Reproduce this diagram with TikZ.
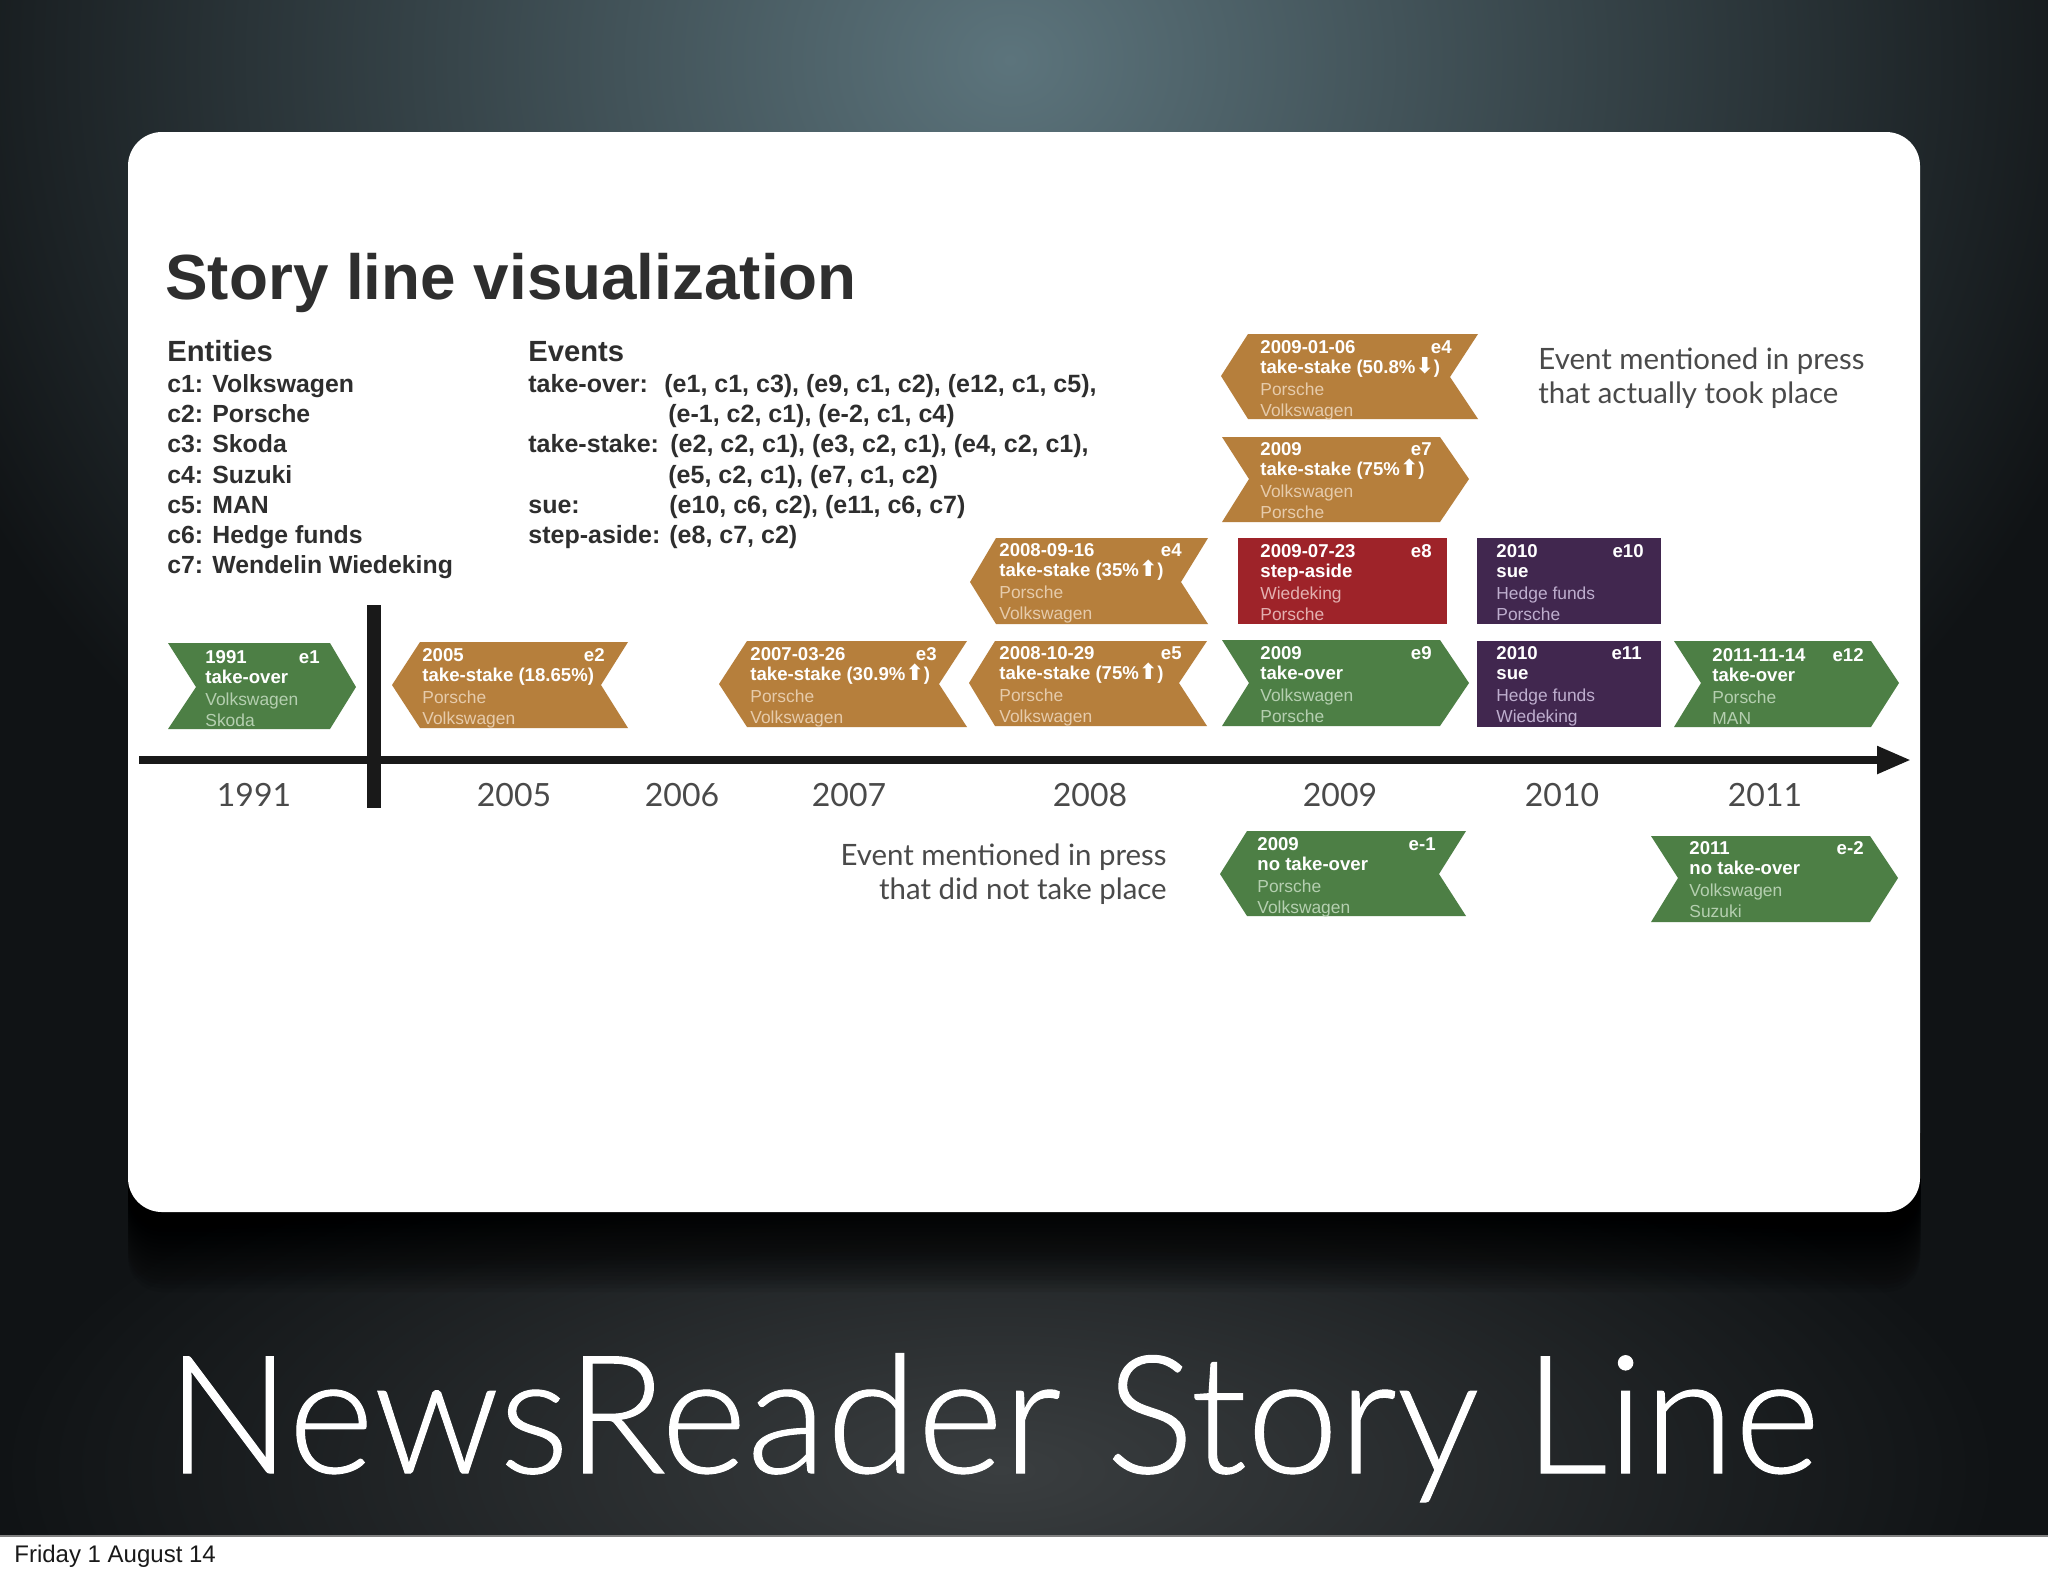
\documentclass[tikz,border=0pt]{standalone}
\usepackage{fontspec}
\setmainfont{Liberation Sans}
\newfontfamily\gillish{Lato}
\newfontfamily\gilllight[FakeBold=0.6]{Lato Light}
\newfontfamily\symfont{DejaVu Sans}
\usetikzlibrary{arrows.meta}
\definecolor{slidebase}{HTML}{101315}
\definecolor{topglow}{HTML}{5C747C}
\definecolor{lowglow}{HTML}{3A3E40}
\definecolor{evgreen}{HTML}{4D7F45}
\definecolor{evorange}{HTML}{B67F3C}
\definecolor{evred}{HTML}{9E2329}
\definecolor{evpurple}{HTML}{41274F}
\definecolor{tintgreen}{HTML}{B5CFB0}
\definecolor{tintorange}{HTML}{E6CBAB}
\definecolor{tintred}{HTML}{E3B0B0}
\definecolor{tintpurple}{HTML}{BEAECE}
\definecolor{inkdark}{HTML}{2E2E2E}
\definecolor{inkgrey}{HTML}{4A4A4A}
\newcommand{\up}{{\symfont\fontsize{11}{11}\selectfont\char"2B06}}
\newcommand{\down}{{\symfont\fontsize{11}{11}\selectfont\char"2B07}}
% text block of an event: x, right x, first centre y, date, id, action, first, second, tint
\newcommand{\evtext}[9]{%
  \node[evbold,anchor=base west] (#5date) at (#1,#3+6) {#4};
  \node[evbold,anchor=base east] (#5id) at (#2,#3+6) {#5};
  \node[evbold,anchor=base west] (#5act) at (#1,#3+26.5) {#6};
  \node[evreg,text=#9,anchor=base west] (#5one) at (#1,#3+48.5) {#7};
  \node[evreg,text=#9,anchor=base west] (#5two) at (#1,#3+69.5) {#8};
}
\tikzset{
  evbold/.style={inner sep=0pt,text=white,font=\fontsize{9.3}{10}\selectfont\bfseries},
  evreg/.style={inner sep=0pt,font=\fontsize{8.7}{10}\selectfont},
  bodytext/.style={inner sep=0pt,anchor=base west,text=inkdark,font=\fontsize{12.5}{14}\selectfont\bfseries},
  listtext/.style={inner sep=0pt,anchor=base west,text=inkdark,font=\fontsize{12.4}{14}\selectfont\bfseries},
  headtext/.style={inner sep=0pt,anchor=base west,text=inkdark,font=\fontsize{14.6}{16}\selectfont\bfseries},
  yeartext/.style={inner sep=0pt,text=inkgrey,font=\fontsize{16}{18}\selectfont\gillish},
  notetext/.style={inner sep=0pt,text=inkgrey,font=\fontsize{14.7}{18}\selectfont\gillish},
}
\begin{document}
\begin{tikzpicture}[x=0.5pt,y=-0.5pt]
\useasboundingbox (0,0) rectangle (2048,1576);
% slide background
\fill[white] (0,0) rectangle (2048,1576);
\begin{scope}
\clip (0,0) rectangle (2048,1535);
\fill[slidebase] (0,0) rectangle (2048,1535);
\shade[inner color=topglow,outer color=slidebase] (1010,60) ellipse (1150 and 1000);
\shade[inner color=lowglow,outer color=slidebase] (1000,1470) ellipse (1000 and 400);
\end{scope}
\draw[gray,line width=1pt] (0,1535.5) -- (2048,1535.5);
% card with soft shadow
\foreach \g in {4,8,...,80}
  \fill[black,opacity=0.07,rounded corners=17pt] (128,1100) rectangle (1920,1212+\g);
\fill[white,rounded corners=17pt] (128,132) rectangle (1920,1212);
% title and lists
\node[inner sep=0pt,anchor=base west,text=inkdark,font=\fontsize{31.9}{34}\selectfont\bfseries] (title) at (165,299) {Story line visualization};
\node[headtext] (enth) at (167,361) {Entities};
\node[listtext] (c1) at (167,392) {c1: Volkswagen};
\node[listtext] (c2) at (167,422) {c2: Porsche};
\node[listtext] (c3) at (167,452) {c3: Skoda};
\node[listtext] (c4) at (167,483) {c4: Suzuki};
\node[listtext] (c5) at (167,513) {c5: MAN};
\node[listtext] (c6) at (167,543) {c6: Hedge funds};
\node[listtext] (c7) at (167,573) {c7: Wendelin Wiedeking};
\node[headtext] (evh) at (528,361) {Events};
\node[bodytext] (l1) at (528,392) {take-over:};
\node[bodytext] (l1b) at (664,392) {(e1, c1, c3), (e9, c1, c2), (e12, c1, c5),};
\node[bodytext] (l2b) at (668,422) {(e-1, c2, c1), (e-2, c1, c4)};
\node[bodytext] (l3) at (528,452) {take-stake:};
\node[bodytext] (l3b) at (670,452) {(e2, c2, c1), (e3, c2, c1), (e4, c2, c1),};
\node[bodytext] (l4b) at (668,483) {(e5, c2, c1), (e7, c1, c2)};
\node[bodytext] (l5) at (528,513) {sue:};
\node[bodytext] (l5b) at (669,513) {(e10, c6, c2), (e11, c6, c7)};
\node[bodytext] (l6) at (528,543) {step-aside:};
\node[bodytext] (l6b) at (669,543) {(e8, c7, c2)};
% notes
\node[notetext,anchor=west] (n1) at (1538,361) {Event mentioned in press};
\node[notetext,anchor=west] (n2) at (1538,395) {that actually took place};
\node[notetext,anchor=east] (n3) at (1167,857) {Event mentioned in press};
\node[notetext,anchor=east] (n4) at (1167,891) {that did not take place};
% axis
\coordinate (axstart) at (139,760);
\coordinate (axend) at (1911,760);
\coordinate (bartop) at (374,605);
\coordinate (barbot) at (374,808);
\draw[line width=4pt,black!90,-{Triangle[length=17pt,width=13pt]}] (axstart) -- (axend);
\draw[line width=7pt,black!90] (bartop) -- (barbot);
\node[yeartext] (y1991) at (254,795) {1991};
\node[yeartext] (y2005) at (514,795) {2005};
\node[yeartext] (y2006) at (682,795) {2006};
\node[yeartext] (y2007) at (849,795) {2007};
\node[yeartext] (y2008) at (1090,795) {2008};
\node[yeartext] (y2009) at (1340,795) {2009};
\node[yeartext] (y2010) at (1562,795) {2010};
\node[yeartext] (y2011) at (1765,795) {2011};
% event shapes
\fill[evgreen] (168,643) -- (330,643) -- (356,687) -- (330,729) -- (168,729) -- (196,687) -- cycle;
\fill[evorange] (420,642) -- (628,642) -- (601,685) -- (628,728) -- (420,728) -- (392,685) -- cycle;
\fill[evorange] (747,641) -- (967,641) -- (939,684) -- (967,727) -- (747,727) -- (719,684) -- cycle;
\fill[evorange] (996,538) -- (1208,538) -- (1181,582) -- (1208,624) -- (996,624) -- (970,582) -- cycle;
\fill[evorange] (995,641) -- (1207,641) -- (1179,683) -- (1207,726) -- (995,726) -- (969,683) -- cycle;
\fill[evorange] (1248,334) -- (1478,334) -- (1450,377) -- (1478,419) -- (1248,419) -- (1221,376) -- cycle;
\fill[evorange] (1222,437) -- (1440,437) -- (1469,479) -- (1440,522) -- (1222,522) -- (1249,479) -- cycle;
\fill[evred] (1238,538) rectangle (1447,624);
\fill[evpurple] (1477,538) rectangle (1661,624);
\fill[evgreen] (1222,640) -- (1440,640) -- (1469,683) -- (1440,726) -- (1222,726) -- (1249,683) -- cycle;
\fill[evpurple] (1477,641) rectangle (1661,727);
\fill[evgreen] (1674,641) -- (1871,641) -- (1899,683) -- (1871,727) -- (1674,727) -- (1701,683) -- cycle;
\fill[evgreen] (1247,831) -- (1466,831) -- (1439,874) -- (1466,916) -- (1247,916) -- (1220,874) -- cycle;
\fill[evgreen] (1651,836) -- (1870,836) -- (1898,878) -- (1870,922) -- (1651,922) -- (1678,878) -- cycle;
% event texts
\evtext{205}{320}{657}{1991}{e1}{take-over}{Volkswagen}{Skoda}{tintgreen}
\evtext{422}{605}{655}{2005}{e2}{take-stake (18.65\%)}{Porsche}{Volkswagen}{tintorange}
\evtext{750}{937}{654}{2007-03-26}{e3}{take-stake (30.9\%\up)}{Porsche}{Volkswagen}{tintorange}
\evtext{999}{1182}{550}{2008-09-16}{e4}{take-stake (35\%\up)}{Porsche}{Volkswagen}{tintorange}
\evtext{999}{1182}{653}{2008-10-29}{e5}{take-stake (75\%\up)}{Porsche}{Volkswagen}{tintorange}
\evtext{1260}{1452}{347}{2009-01-06}{e4}{take-stake (50.8\%\down)}{Porsche}{Volkswagen}{tintorange}
\evtext{1260}{1432}{449}{2009}{e7}{take-stake (75\%\up)}{Volkswagen}{Porsche}{tintorange}
\evtext{1260}{1432}{551}{2009-07-23}{e8}{step-aside}{Wiedeking}{Porsche}{tintred}
\evtext{1496}{1644}{551}{2010}{e10}{sue}{Hedge funds}{Porsche}{tintpurple}
\evtext{1260}{1432}{653}{2009}{e9}{take-over}{Volkswagen}{Porsche}{tintgreen}
\evtext{1496}{1642}{653}{2010}{e11}{sue}{Hedge funds}{Wiedeking}{tintpurple}
\evtext{1712}{1864}{655}{2011-11-14}{e12}{take-over}{Porsche}{MAN}{tintgreen}
\evtext{1257}{1436}{844}{2009}{e-1}{no take-over}{Porsche}{Volkswagen}{tintgreen}
\evtext{1689}{1864}{848}{2011}{e-2}{no take-over}{Volkswagen}{Suzuki}{tintgreen}
% slide title and footer
\node[inner sep=0pt,anchor=base west,text=white,font=\fontsize{82.3}{90}\selectfont\gilllight] (slidetitle) at (166,1473) {NewsReader Story Line};
\node[inner sep=0pt,anchor=base west,text=black!90,font=\fontsize{12}{14}\selectfont] (foot) at (14,1562) {Friday 1 August 14};
\end{tikzpicture}
\end{document}
